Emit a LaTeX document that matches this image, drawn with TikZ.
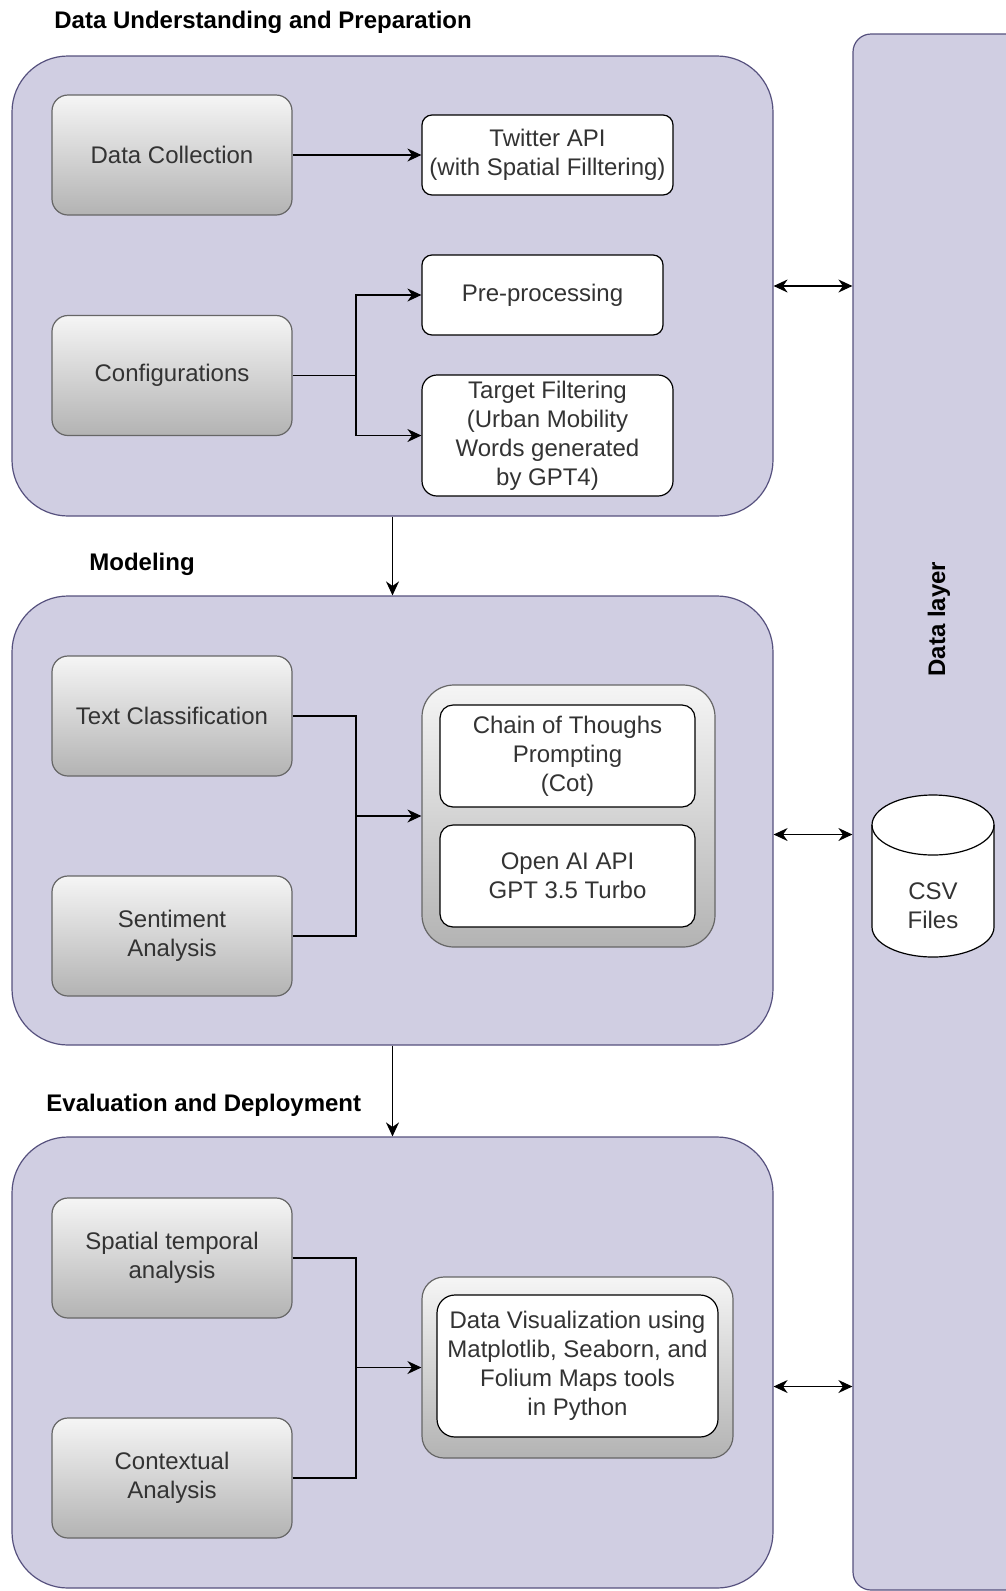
\documentclass[tikz,border=0pt]{standalone}
\usepackage{fontspec}
\setmainfont{Liberation Sans}
\usetikzlibrary{arrows.meta}

\definecolor{panelfill}{HTML}{D0CEE2}
\definecolor{paneldraw}{HTML}{56517E}
\definecolor{boxdraw}{HTML}{666666}
\definecolor{boxtext}{HTML}{333333}
\definecolor{boxtop}{HTML}{F5F5F5}
\definecolor{boxbottom}{HTML}{B3B3B3}

\begin{document}
\begin{tikzpicture}[x=0.5pt, y=-0.5pt,
	font=\fontsize{12}{14.5}\selectfont,
	panel/.style={draw=paneldraw, fill=panelfill, line width=0.6pt, rounded corners=28pt, inner sep=0pt},
	graybox/.style={draw=boxdraw, top color=boxtop, bottom color=boxbottom, rounded corners=8pt, line width=0.6pt, minimum width=120pt, minimum height=60pt, text=boxtext, align=center, inner sep=0pt},
	whitebox/.style={draw=black, fill=white, rounded corners=5pt, line width=0.6pt, text=boxtext, align=center, inner sep=0pt},
	holder/.style={draw=boxdraw, top color=boxtop, bottom color=boxbottom, line width=0.6pt, inner sep=0pt},
	link/.style={line width=0.6pt},
	flow/.style={-{Stealth[length=7pt,width=6.5pt]}, line width=0.6pt},
	both/.style={{Stealth[length=7pt,width=6.5pt]}-{Stealth[length=7pt,width=6.5pt]}, line width=0.6pt},
	stagetitle/.style={anchor=west, inner sep=0pt, font=\fontsize{12}{14.5}\selectfont\bfseries}
	]
	\useasboundingbox (0,0) rectangle (1006,1591);
	
	\node[panel, minimum width=380.5pt, minimum height=230pt] (prep) at (392.5,286) {};
	\node[panel, minimum width=380.5pt, minimum height=224.5pt] (model) at (392.5,820.5) {};
	\node[panel, minimum width=380.5pt, minimum height=225.5pt] (deploy) at (392.5,1362.5) {};
	\node[panel, rounded corners=9pt, minimum width=85pt, minimum height=778pt] (dlayer) at (938,812) {};
	
	\node[stagetitle] (prepttl) at (54,22) {Data Understanding and Preparation};
	\node[stagetitle] (modelttl) at (89,564) {Modeling};
	\node[stagetitle] (deployttl) at (46,1105) {Evaluation and Deployment};
	\node[stagetitle, anchor=center, rotate=90] (dlayerttl) at (939,619) {Data layer};
	
	\node[graybox] (collect) at (172,155) {Data Collection};
	\node[graybox] (config) at (172,375.5) {Configurations};
	\node[graybox] (textcls) at (172,716) {Text Classification};
	\node[graybox] (senti) at (172,936) {Sentiment\\Analysis};
	\node[graybox] (spatial) at (172,1258) {Spatial temporal\\analysis};
	\node[graybox] (context) at (172,1478) {Contextual\\Analysis};
	
	\node[whitebox, minimum width=125.5pt, minimum height=40pt] (twitter) at (547.5,155) {Twitter API\\(with Spatial Filltering)};
	\node[whitebox, minimum width=120.5pt, minimum height=40pt] (preproc) at (542.5,295) {Pre-processing};
	\node[whitebox, rounded corners=7.5pt, minimum width=125.5pt, minimum height=60.5pt] (target) at (547.5,435.5) {Target Filtering\\(Urban Mobility\\Words generated\\by GPT4)};
	
	\node[holder, rounded corners=16pt, minimum width=146.5pt, minimum height=131pt] (llm) at (568.5,816) {};
	\node[whitebox, rounded corners=6.5pt, minimum width=127.5pt, minimum height=51pt] (cot) at (567.5,756) {Chain of Thoughs\\Prompting\\(Cot)};
	\node[whitebox, rounded corners=6.5pt, minimum width=127.5pt, minimum height=51pt] (openai) at (567.5,876) {Open AI API\\GPT 3.5 Turbo};
	
	\node[holder, rounded corners=11pt, minimum width=155.5pt, minimum height=90.5pt] (vis) at (577.5,1367.5) {};
	\node[whitebox, rounded corners=9pt, minimum width=140.5pt, minimum height=71pt] (visual) at (577.5,1366) {Data Visualization using\\Matplotlib, Seaborn, and\\Folium Maps tools\\in Python};
	
	\begin{scope}[shift={(933,876)}, x=1pt, y=1pt]
		\filldraw[fill=white, line width=0.6pt] (-30.5,25.5) -- (-30.5,-25.5) arc[start angle=180, end angle=360, x radius=30.5, y radius=15] -- (30.5,25.5) arc[start angle=0, end angle=180, x radius=30.5, y radius=15] -- cycle;
		\draw[line width=0.6pt] (-30.5,25.5) arc[start angle=180, end angle=360, x radius=30.5, y radius=15];
	\end{scope}
	\node[text=boxtext, align=center] (csvtext) at (933,905.5) {CSV\\Files};
	
	\draw[flow] (collect.east) -- (twitter.west);
	\coordinate (cfgfork) at (356,375.5);
	\draw[link] (config.east) -- (cfgfork);
	\draw[flow] (cfgfork) |- (preproc.west);
	\draw[flow] (cfgfork) |- (target.west);
	\draw[flow] (prep.south) -- (model.north);
	\draw[both] (prep.east) -- (prep.east -| dlayer.west);
	
	\coordinate (llmjoin) at (356,816);
	\draw[link] (textcls.east) -| (llmjoin);
	\draw[link] (senti.east) -| (llmjoin);
	\draw[flow] (llmjoin) -- (llm.west);
	\draw[flow] (model.south) -- (deploy.north);
	\draw[both] ([yshift=-7pt]model.east) -- ([yshift=-7pt]model.east -| dlayer.west);
	
	\coordinate (visjoin) at (356,1367.5);
	\draw[link] (spatial.east) -| (visjoin);
	\draw[link] (context.east) -| (visjoin);
	\draw[flow] (visjoin) -- (vis.west);
	\draw[both] ([yshift=-12pt]deploy.east) -- ([yshift=-12pt]deploy.east -| dlayer.west);
\end{tikzpicture}
\end{document}
